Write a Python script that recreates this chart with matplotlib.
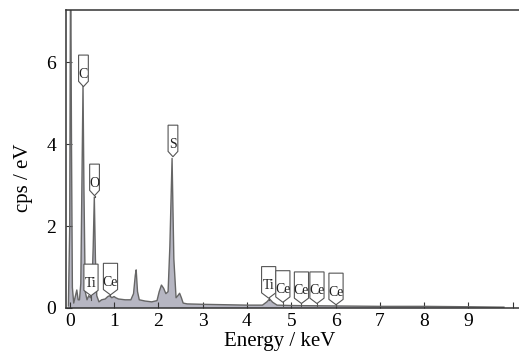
import numpy as np
import matplotlib
matplotlib.use("Agg")
import matplotlib.pyplot as plt
from matplotlib.patches import Polygon

plt.rcParams['font.family'] = ['Liberation Serif', 'DejaVu Serif']

# EDS spectrum (keV, cps/eV)
energy = [-0.03, 0.00, 0.02, 0.04, 0.06, 0.09, 0.13, 0.16, 0.19, 0.22, 0.25, 0.28,
          0.30, 0.32, 0.35, 0.39, 0.43, 0.47, 0.50, 0.53, 0.555, 0.58, 0.61, 0.66,
          0.72, 0.80, 0.86, 0.90, 0.95, 1.00, 1.04, 1.10, 1.25, 1.38, 1.44, 1.48,
          1.50, 1.53, 1.57, 1.70, 1.85, 1.97, 2.02, 2.07, 2.12, 2.17, 2.22, 2.26,
          2.31, 2.35, 2.40, 2.44, 2.48, 2.52, 2.56, 2.65, 3.00, 3.50, 4.00, 4.35,
          4.45, 4.51, 4.58, 4.68, 5.00, 6.00, 7.00, 8.00, 9.00, 9.80]
counts = [0.05, 2.0, 9.0, 4.0, 0.5, 0.12, 0.30, 0.44, 0.20, 0.20, 0.60, 3.50,
          5.44, 3.00, 0.40, 0.20, 0.30, 0.25, 0.45, 1.50, 2.71, 1.20, 0.30, 0.15,
          0.20, 0.22, 0.28, 0.30, 0.25, 0.28, 0.25, 0.22, 0.20, 0.20, 0.35, 0.80,
          0.93, 0.40, 0.20, 0.17, 0.15, 0.18, 0.40, 0.56, 0.48, 0.35, 0.40, 1.50,
          3.65, 1.20, 0.25, 0.30, 0.36, 0.25, 0.12, 0.10, 0.09, 0.08, 0.07, 0.07,
          0.15, 0.22, 0.14, 0.07, 0.06, 0.05, 0.04, 0.04, 0.03, 0.02]

# element markers: label, energy, box top, tip
marker_labels = ['C', 'O', 'Ti', 'Ce', 'S', 'Ti', 'Ce', 'Ce', 'Ce', 'Ce']
marker_energy = [0.31, 0.56, 0.48, 0.92, 2.33, 4.49, 4.81, 5.23, 5.58, 6.01]
marker_top = [6.17, 3.51, 1.07, 1.09, 4.46, 1.01, 0.91, 0.88, 0.88, 0.85]
marker_tip = [5.45, 2.72, 0.20, 0.30, 3.70, 0.20, 0.05, 0.05, 0.05, 0.05]

xticks = list(range(0, 11))
xticklabels = [str(t) for t in range(0, 10)] + ['']
yticks = [0, 2, 4, 6]

fig = plt.figure(figsize=(5.19, 3.58), dpi=100)
ax = fig.add_axes([66 / 519, 50 / 358, 453 / 519, 298 / 358])

ax.fill_between(energy, counts, 0, color='#b6b6c2', lw=0)
ax.plot(energy, counts, color='#666666', lw=1.0)

for lab, x, top, tip in zip(marker_labels, marker_energy, marker_top, marker_tip):
    half = 0.11 if len(lab) == 1 else 0.16
    bottom = top - 0.64
    v = 0.13
    poly = Polygon([(x - half, top), (x + half, top), (x + half, bottom),
                    (x, bottom - v), (x - half, bottom)], closed=True,
                   facecolor='white', edgecolor='#555555', lw=0.8, zorder=3)
    ax.add_patch(poly)
    if tip < bottom - v:
        ax.plot([x, x], [bottom - v, tip], color='#555555', lw=0.8, zorder=3)
    ax.text(x, bottom + 0.02, lab, ha='center', va='bottom', fontsize=10,
            color='#222222', zorder=4)

ax.set_xlim(-0.084, 10.14)
ax.set_ylim(0, 7.27)
ax.set_xticks(xticks)
ax.set_xticklabels(xticklabels)
ax.set_yticks(yticks)
ax.tick_params(axis='both', direction='in', length=4, width=0.8, labelsize=14,
               color='#333333')
ax.tick_params(axis='x', pad=3.5)
ax.tick_params(axis='y', pad=7)

for side in ['left', 'top', 'bottom']:
    ax.spines[side].set_color('#333333')
    ax.spines[side].set_linewidth(1.1)
ax.spines['right'].set_visible(False)

ax.set_xlabel('Energy / keV', fontsize=15)
ax.set_ylabel('cps / eV', fontsize=15)
ax.xaxis.set_label_coords(0.471, -0.082)
ax.yaxis.set_label_coords(-0.073, 0.436)

fig.savefig('out.png', dpi=100)
